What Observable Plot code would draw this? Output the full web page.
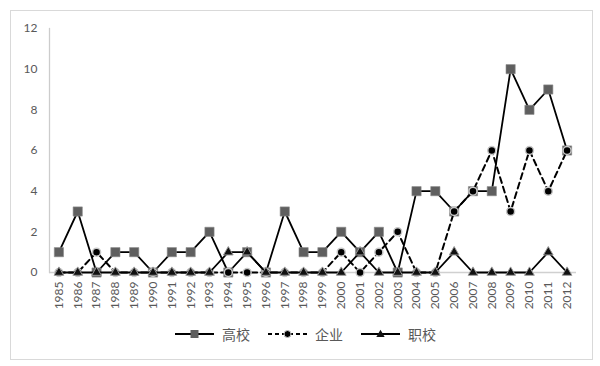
<!DOCTYPE html>
<html>
<head>
<meta charset="utf-8">
<script src="https://cdn.jsdelivr.net/npm/d3@7"></script>
<script src="https://cdn.jsdelivr.net/npm/@observablehq/plot@0.6"></script>
<style>
  html, body { margin: 0; padding: 0; background: #fff; }
  body { width: 600px; height: 366px; position: relative; overflow: hidden; font-family: Lato, "Noto Sans CJK SC", sans-serif; }
  #box { position: absolute; left: 10px; top: 10px; width: 581px; height: 348px; border: 1px solid #d9d9d9; }
  #chart { position: absolute; left: 0; top: 0; }
  #legend { position: absolute; left: 164px; top: 313px; display: flex; align-items: center; color: #595959; font-size: 14px; font-family: "Noto Sans CJK SC", sans-serif; }
  .item { display: flex; align-items: center; margin-right: 18px; }
  .item svg { margin-right: 8px; }
</style>
</head>
<body>
<div id="box">
  <div id="chart"></div>
  <div id="legend"></div>
</div>
<script>
const years = ["1985","1986","1987","1988","1989","1990","1991","1992","1993","1994","1995","1996","1997","1998","1999","2000","2001","2002","2003","2004","2005","2006","2007","2008","2009","2010","2011","2012"];
const gaoxiao = [1,3,0,1,1,0,1,1,2,0,1,0,3,1,1,2,1,2,0,4,4,3,4,4,10,8,9,6];
const qiye    = [0,0,1,0,0,0,0,0,0,0,0,0,0,0,0,1,0,1,2,0,0,3,4,6,3,6,4,6];
const zhixiao = [0,0,0,0,0,0,0,0,0,1,1,0,0,0,0,0,1,0,0,0,0,1,0,0,0,0,1,0];
const seriesNames = ["高校","企业","职校"];
const yTicks = [0,2,4,6,8,10,12];

const toRows = (vals) => years.map((y, i) => ({year: y, value: vals[i]}));
const g = toRows(gaoxiao), q = toRows(qiye), z = toRows(zhixiao);

const plot = Plot.plot({
  width: 581,
  height: 305,
  marginLeft: 38,
  marginRight: 16,
  marginTop: 17,
  marginBottom: 44,
  style: {fontFamily: "Lato, sans-serif", fontSize: "12px", color: "#595959", background: "transparent"},
  x: {type: "point", domain: years, round: false, label: null},
  y: {domain: [0, 12], ticks: yTicks, label: null},
  marks: [
    Plot.axisY({ticks: yTicks, tickSize: 0, tickPadding: 12, label: null, fill: "#595959"}),
    Plot.axisX({tickRotate: -90, tickSize: 0, tickPadding: 9, label: null, fill: "#595959"}),
    Plot.ruleY([0], {stroke: "#d0d0d0", strokeWidth: 1.3}),
    Plot.frame({anchor: "left", stroke: "#cccccc", strokeWidth: 1.3}),
    Plot.line(g, {x: "year", y: "value", stroke: "#000", strokeWidth: 1.8}),
    Plot.dot(g, {x: "year", y: "value", symbol: "square", r: 5.2, fill: "#5f5f5f", stroke: "#8a8a8a", strokeWidth: 0.6}),
    Plot.line(q, {x: "year", y: "value", stroke: "#000", strokeWidth: 2, strokeDasharray: "6,4"}),
    Plot.dot(q, {x: "year", y: "value", symbol: "circle", r: 4, fill: "#000", stroke: "#c8c8c8", strokeWidth: 1.5}),
    Plot.line(z, {x: "year", y: "value", stroke: "#000", strokeWidth: 1.8}),
    Plot.dot(z, {x: "year", y: "value", symbol: "triangle", r: 3.6, fill: "#111", stroke: "#9a9a9a", strokeWidth: 1})
  ]
});
document.getElementById("chart").appendChild(plot);

// legend
const legend = d3.select("#legend");
const specs = [
  {name: seriesNames[0], dash: null, marker: "square"},
  {name: seriesNames[1], dash: "4,3", marker: "circle"},
  {name: seriesNames[2], dash: null, marker: "triangle"}
];
specs.forEach(s => {
  const item = legend.append("div").attr("class", "item");
  const svg = item.append("svg").attr("width", 39).attr("height", 14);
  svg.append("line").attr("x1", 0).attr("x2", 39).attr("y1", 7).attr("y2", 7)
    .attr("stroke", "#000").attr("stroke-width", 1.8).attr("stroke-dasharray", s.dash);
  if (s.marker === "square") {
    svg.append("rect").attr("x", 15.5).attr("y", 3).attr("width", 8).attr("height", 8).attr("fill", "#5f5f5f");
  } else if (s.marker === "circle") {
    svg.append("circle").attr("cx", 19.5).attr("cy", 7).attr("r", 3.5).attr("fill", "#000").attr("stroke", "#c8c8c8").attr("stroke-width", 1);
  } else {
    svg.append("path").attr("d", d3.symbol(d3.symbolTriangle, 30)()).attr("transform", "translate(19.5,7.5)").attr("fill", "#111");
  }
  item.append("span").text(s.name);
});
</script>
</body>
</html>
